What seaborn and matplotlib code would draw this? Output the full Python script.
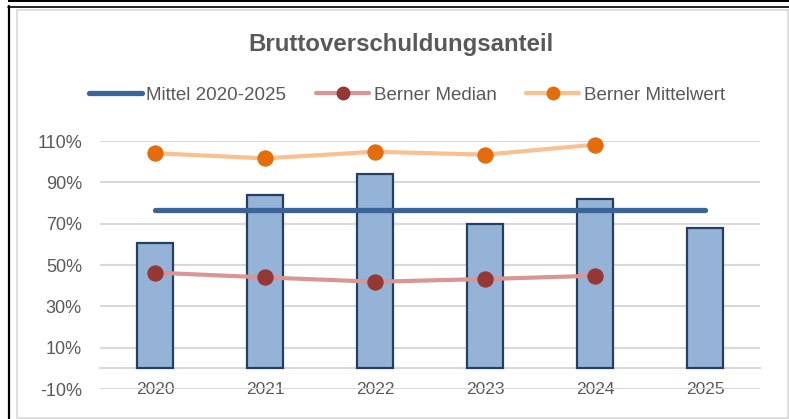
import numpy as np
import pandas as pd
import matplotlib
matplotlib.use("Agg")
import matplotlib.pyplot as plt
from matplotlib.lines import Line2D
from matplotlib.patches import Rectangle
import seaborn as sns

# ---- data ----
years = ["2020", "2021", "2022", "2023", "2024", "2025"]
anteil = [60.8, 83.7, 94.2, 69.7, 82.1, 68.0]
median_years = ["2020", "2021", "2022", "2023", "2024"]
berner_median = [46.3, 44.0, 41.9, 43.2, 44.8]
berner_mittelwert = [104.1, 101.6, 104.8, 103.4, 108.2]
legend_labels = ["Mittel 2020-2025", "Berner Median", "Berner Mittelwert"]
title = "Bruttoverschuldungsanteil"
yticks = [-10, 10, 30, 50, 70, 90, 110]

# ---- style ----
sns.set_style("white")
plt.rcParams["font.family"] = ["Liberation Sans", "DejaVu Sans"]
TXT = "#595959"
GRID = "#D9D9D9"
BAR_FILL = "#95B3D7"
BAR_EDGE = "#243F60"
MEAN_C = "#3A6599"
MED_LINE, MED_MARK = "#D99694", "#953735"
MW_LINE, MW_MARK = "#FAC090", "#E46C0A"

W, H = 789, 419
fig = plt.figure(figsize=(W / 100, H / 100), dpi=100)
fig.patch.set_facecolor("white")
ax = fig.add_axes([100 / W, (H - 389) / H, 660 / W, 248 / H])

df = pd.DataFrame({"Jahr": years, "Anteil": anteil})
sns.barplot(data=df, x="Jahr", y="Anteil", order=years, width=0.32,
            color=BAR_FILL, saturation=1, edgecolor=BAR_EDGE, linewidth=1.6,
            ax=ax, zorder=2)

pos_all = np.arange(len(years))
mittel = float(np.mean(anteil))
ax.plot(pos_all, [mittel] * len(years), color=MEAN_C, lw=3.8,
        solid_capstyle="round", zorder=3)

pos_m = [years.index(y) for y in median_years]
sns.lineplot(x=pos_m, y=berner_median, color=MED_LINE, lw=3.0, marker="o",
             markersize=11, markerfacecolor=MED_MARK, markeredgecolor=MED_MARK,
             ax=ax, legend=False, zorder=4, clip_on=False)
sns.lineplot(x=pos_m, y=berner_mittelwert, color=MW_LINE, lw=3.0, marker="o",
             markersize=11, markerfacecolor=MW_MARK, markeredgecolor=MW_MARK,
             ax=ax, legend=False, zorder=4, clip_on=False)

ax.set_xlim(-0.5, len(years) - 0.5)
ax.set_ylim(-10, 110)
ax.set_yticks(yticks)
ax.set_yticklabels([f"{v}%" for v in yticks])
ax.set_xlabel("")
ax.set_ylabel("")
ax.set_axisbelow(True)
ax.yaxis.grid(True, color=GRID, lw=1.5)
for s in ["top", "right", "left"]:
    ax.spines[s].set_visible(False)
ax.spines["bottom"].set_position(("data", 0))
ax.spines["bottom"].set_color(GRID)
ax.spines["bottom"].set_linewidth(1.5)
ax.spines["bottom"].set_zorder(1)
ax.tick_params(axis="x", length=0, pad=10, labelsize=12.5, labelcolor=TXT)
ax.tick_params(axis="y", length=0, pad=13, labelsize=13, labelcolor=TXT)

fig.text(401 / W, 1 - 44 / H, title, ha="center", va="center",
         fontsize=17.3, fontweight="bold", color=TXT)

handles = [
    Line2D([], [], color=MEAN_C, lw=3.8, solid_capstyle="round"),
    Line2D([], [], color=MED_LINE, lw=3.0, marker="o", markersize=9,
           markerfacecolor=MED_MARK, markeredgecolor=MED_MARK),
    Line2D([], [], color=MW_LINE, lw=3.0, marker="o", markersize=9,
           markerfacecolor=MW_MARK, markeredgecolor=MW_MARK),
]
leg = fig.legend(handles, legend_labels, loc="center", ncol=3,
                 bbox_to_anchor=(407 / W, 1 - 95 / H), frameon=False,
                 fontsize=13.5, handlelength=2.8, handletextpad=0.25,
                 columnspacing=1.6, labelcolor=TXT)

# ---- frame decoration ----
fig.add_artist(Rectangle((8 / W, 1 - 2.5 / H), 1, 2.5 / H, transform=fig.transFigure,
                         facecolor="black", edgecolor="none"))
fig.add_artist(Line2D([8 / W, 1], [1 - 6.8 / H] * 2, transform=fig.transFigure,
                      color="black", lw=1.2))
fig.add_artist(Line2D([9 / W] * 2, [0, 1 - 6.2 / H], transform=fig.transFigure,
                      color="black", lw=1.6))
fig.add_artist(Rectangle((16.5 / W, 1 / H), (788 - 16.5) / W, (418 - 10) / H,
                         transform=fig.transFigure, facecolor="none",
                         edgecolor=GRID, lw=1.2))

fig.savefig("out.png", dpi=100, facecolor="white")
